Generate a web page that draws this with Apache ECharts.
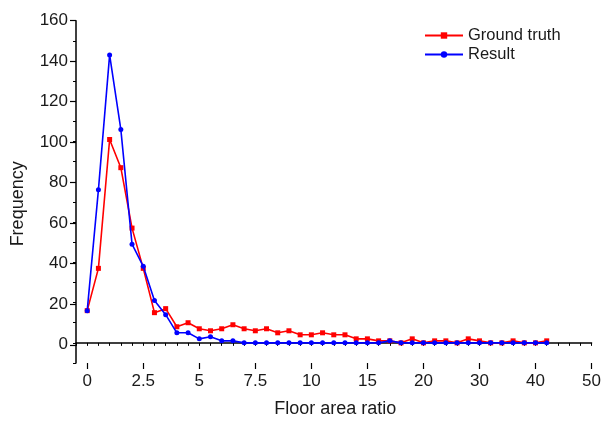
<!DOCTYPE html>
<html>
<head>
<meta charset="utf-8">
<script src="https://cdn.jsdelivr.net/npm/echarts@6/dist/echarts.min.js"></script>
<style>
html, body { margin: 0; padding: 0; background: #fff; }
#chart { width: 604px; height: 423px; }
</style>
</head>
<body>
<div id="chart"></div>
<script>
// floor area ratio bins (unevenly spaced, drawn at equal steps)
const xValues = [0, 0.5, 1, 1.5, 2, 2.5, 3, 3.5, 4, 4.5, 5, 5.5, 6, 6.5, 7, 7.5, 8, 8.5, 9, 9.5, 10,
  11, 12, 13, 14, 15, 16, 17, 18, 19, 20,
  22, 24, 26, 28, 30, 32, 34, 36, 38, 40, 42]
const groundTruth = [16, 37, 101, 87, 57, 37, 15, 17, 8, 10, 7, 6, 7, 9, 7, 6, 7, 5, 6, 4, 4,
  5, 4, 4, 2, 2, 1, 1, 0, 2, 0,
  1, 1, 0, 2, 1, 0, 0, 1, 0, 0, 1]
const result = [16, 76, 143, 106, 49, 38, 21, 14, 5, 5, 2, 3, 1, 1, 0, 0, 0, 0, 0, 0, 0,
  0, 0, 0, 0, 0, 0, 1, 0, 0, 0,
  0, 0, 0, 0, 0, 0, 0, 0, 0, 0, 0]
const tickLabels = ['0', '2.5', '5', '7.5', '10', '15', '20', '30', '40', '50']

const fontFamily = '"Liberation Sans", Arial, sans-serif'
const textColor = '#1a1a1a'

// axis slots: one before the first bin, up to the "50" tick
const slots = []
for (let p = -1; p <= 45; p++) slots.push(String(p))
const isMajor = (idx) => (idx - 1) >= 0 && (idx - 1) % 5 === 0

const chart = echarts.init(document.getElementById('chart'))

const option = {
  animation: false,
  backgroundColor: '#fff',
  textStyle: { fontFamily: fontFamily },
  grid: [
    { left: 76, right: 11, top: 20.7, bottom: 58 },
    // helper grid for the labelled y ticks (0..160)
    { left: 76, right: 11, top: 20.7, bottom: 78.25 }
  ],
  legend: {
    orient: 'vertical',
    left: 419,
    top: 22,
    itemWidth: 38,
    itemHeight: 8,
    itemGap: 2,
    textStyle: { fontSize: 16.5, color: textColor, fontFamily: fontFamily },
    data: ['Ground truth', 'Result']
  },
  xAxis: [
    {
      type: 'category',
      gridIndex: 0,
      data: slots,
      boundaryGap: false,
      name: 'Floor area ratio',
      nameLocation: 'middle',
      nameGap: 37,
      nameTextStyle: { fontSize: 18, color: textColor, fontFamily: fontFamily, padding: [0, 0, 0, 3] },
      axisLine: { lineStyle: { color: '#000', width: 1.5 } },
      axisTick: { show: true, inside: false, length: 3, interval: 0, lineStyle: { color: '#000', width: 1 } },
      axisLabel: { show: false },
      splitLine: { show: false }
    },
    {
      type: 'category',
      gridIndex: 0,
      data: slots,
      boundaryGap: false,
      position: 'bottom',
      axisLine: { show: false },
      axisTick: { show: true, inside: false, length: 6, interval: (idx) => isMajor(idx), lineStyle: { color: '#000', width: 1.2 } },
      axisLabel: {
        show: true,
        interval: (idx) => isMajor(idx),
        margin: 10,
        fontSize: 17,
        color: textColor,
        fontFamily: fontFamily,
        formatter: (val, idx) => isMajor(idx) ? tickLabels[(idx - 1) / 5] : ''
      },
      splitLine: { show: false }
    },
    { type: 'value', gridIndex: 1, show: false, min: 0, max: 1 }
  ],
  yAxis: [
    {
      type: 'value',
      gridIndex: 0,
      min: -10,
      max: 160,
      interval: 10,
      name: 'Frequency',
      nameLocation: 'middle',
      nameGap: 49,
      nameTextStyle: { fontSize: 18, color: textColor, fontFamily: fontFamily, padding: [0, 24, 0, 0] },
      axisLine: { show: true, lineStyle: { color: '#000', width: 1.5 } },
      axisTick: { show: true, inside: false, length: 3, lineStyle: { color: '#000', width: 1 } },
      axisLabel: { show: false },
      splitLine: { show: false }
    },
    {
      type: 'value',
      gridIndex: 1,
      min: 0,
      max: 160,
      interval: 20,
      axisLine: { show: false },
      axisTick: { show: true, inside: false, length: 6, lineStyle: { color: '#000', width: 1.2 } },
      axisLabel: { show: true, margin: 8, fontSize: 17, color: textColor, fontFamily: fontFamily },
      splitLine: { show: false }
    }
  ],
  series: [
    {
      name: 'Ground truth',
      type: 'line',
      xAxisIndex: 0,
      yAxisIndex: 0,
      data: groundTruth.map((v, i) => [i + 1, v]),
      symbol: 'rect',
      symbolSize: 5,
      lineStyle: { color: '#ff0000', width: 1.6 },
      itemStyle: { color: '#ff0000' },
      z: 2
    },
    {
      name: 'Result',
      type: 'line',
      xAxisIndex: 0,
      yAxisIndex: 0,
      data: result.map((v, i) => [i + 1, v]),
      symbol: 'circle',
      symbolSize: 5,
      lineStyle: { color: '#0000ff', width: 1.6 },
      itemStyle: { color: '#0000ff' },
      z: 3
    }
  ]
}

chart.setOption(option)
</script>
</body>
</html>
